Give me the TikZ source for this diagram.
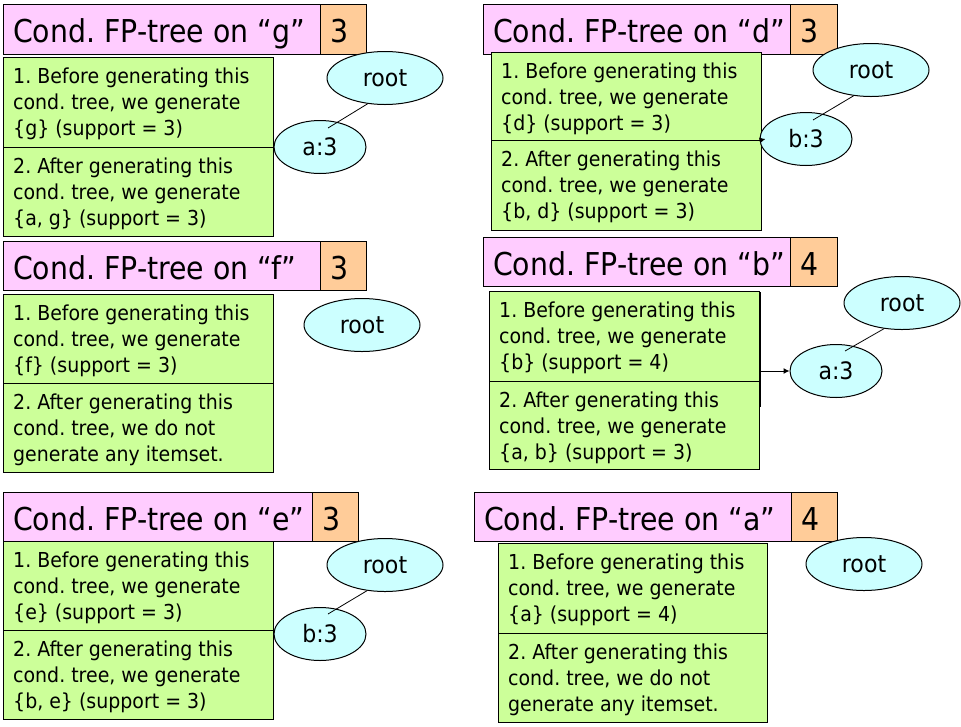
\documentclass[tikz,border=0pt]{standalone}
\usepackage{fontspec}
\setmainfont{DejaVu Sans}[FakeStretch=0.92]
\newfontfamily\ttlfont{DejaVu Sans}[FakeStretch=0.9]
\frenchspacing
\usetikzlibrary{shapes.geometric,arrows.meta,calc}
\definecolor{pinkc}{HTML}{FFCCFF}
\definecolor{orangec}{HTML}{FFCC99}
\definecolor{greenc}{HTML}{CCFF99}
\definecolor{cyanc}{HTML}{CCFFFF}
\tikzset{
  box/.style={draw=black, line width=1pt, anchor=north west, inner sep=0pt, outer sep=0pt},
  pinkbox/.style={box, fill=pinkc, minimum height=50pt},
  numbox/.style={box, fill=orangec, minimum height=50pt, minimum width=46pt},
  greenbox/.style={box, fill=greenc, minimum width=270pt},
  ttltext/.style={anchor=base west, inner sep=0pt, font=\ttlfont\fontsize{31.5}{38}\selectfont\frenchspacing},
  bodytext/.style={anchor=north west, inner sep=0pt, align=left, font=\fontsize{20.6}{26}\selectfont\frenchspacing},
  ell/.style={draw=black, line width=1pt, fill=cyanc, ellipse, inner sep=0pt, font=\fontsize{24}{29}\selectfont},
  rootell/.style={ell, minimum width=116pt, minimum height=53pt},
  kidell/.style={ell, minimum width=92pt, minimum height=53pt},
  edge/.style={draw=black, line width=0.8pt},
  arr/.style={draw=black, line width=1pt, -{Latex[length=6pt,width=6pt]}}
}
\begin{document}
\begin{tikzpicture}[x=1pt,y=-1pt]
\useasboundingbox (0,0) rectangle (961,726);

% ---------- panel g ----------
\node[pinkbox, minimum width=317pt] (tg) at (3,4) {};
\node[numbox] (ng) at (320,4) {};
\node[ttltext] (tgt) at ($(tg.north west)+(10,38)$) {Cond. FP-tree on “g”};
\node[ttltext] (ngt) at ($(ng.north west)+(10,38)$) {3};
\node[greenbox, minimum height=90pt] (g1) at (3,57) {};
\node[greenbox, minimum height=89pt] (g2) at (3,147) {};
\node[bodytext] (g1t) at ($(g1.north west)+(10,10.5)$) {1. Before generating this\\cond. tree, we generate\\\{g\} (support = 3)};
\node[bodytext] (g2t) at ($(g2.north west)+(10,10.5)$) {2. After generating this\\cond. tree, we generate\\\{a, g\} (support = 3)};
\node[rootell] (rg) at (385,78) {root};
\node[kidell] (ag) at (320,147) {a:3};
\draw[edge] (rg.236) -- ($(ag.center)+(8,-19)$);

% ---------- panel d ----------
\node[pinkbox, minimum width=307pt] (td) at (483,4) {};
\node[numbox, minimum width=47pt] (nd) at (790,4) {};
\node[ttltext] (tdt) at ($(td.north west)+(10,38)$) {Cond. FP-tree on “d”};
\node[ttltext] (ndt) at ($(nd.north west)+(10,38)$) {3};
\node[greenbox, minimum height=88pt] (d1) at (491,52) {};
\node[greenbox, minimum height=90pt] (d2) at (491,140) {};
\node[bodytext] (d1t) at ($(d1.north west)+(10,10.5)$) {1. Before generating this\\cond. tree, we generate\\\{d\} (support = 3)};
\node[bodytext] (d2t) at ($(d2.north west)+(10,10.5)$) {2. After generating this\\cond. tree, we generate\\\{b, d\} (support = 3)};
\node[rootell] (rd) at (871,70) {root};
\node[kidell] (bd) at (806,139) {b:3};
\draw[edge] (rd.236) -- ($(bd.center)+(7,-19)$);
\draw[arr] (d1.south east) -- ($(bd.west)+(6,0)$);

% ---------- panel f ----------
\node[pinkbox, minimum width=317pt, minimum height=49pt] (tf) at (3,241) {};
\node[numbox, minimum height=49pt] (nf) at (320,241) {};
\node[ttltext] (tft) at ($(tf.north west)+(10,38)$) {Cond. FP-tree on “f”};
\node[ttltext] (nft) at ($(nf.north west)+(10,38)$) {3};
\node[greenbox, minimum height=89pt] (f1) at (3,294) {};
\node[greenbox, minimum height=89pt] (f2) at (3,383) {};
\node[bodytext] (f1t) at ($(f1.north west)+(10,10.5)$) {1. Before generating this\\cond. tree, we generate\\\{f\} (support = 3)};
\node[bodytext] (f2t) at ($(f2.north west)+(10,10.5)$) {2. After generating this\\cond. tree, we do not\\generate any itemset.};
\node[rootell] (rf) at (362,325) {root};

% ---------- panel b ----------
\node[pinkbox, minimum width=307pt, minimum height=49pt] (tb) at (483,237) {};
\node[numbox, minimum width=47pt, minimum height=49pt] (nb) at (790,237) {};
\node[ttltext] (tbt) at ($(tb.north west)+(10,38)$) {Cond. FP-tree on “b”};
\node[ttltext] (nbt) at ($(nb.north west)+(10,38)$) {4};
\node[greenbox, minimum height=90pt] (b1) at (489,291) {};
\node[greenbox, minimum height=88pt] (b2) at (489,381) {};
\node[bodytext] (b1t) at ($(b1.north west)+(10,10.5)$) {1. Before generating this\\cond. tree, we generate\\\{b\} (support = 4)};
\node[bodytext] (b2t) at ($(b2.north west)+(10,10.5)$) {2. After generating this\\cond. tree, we generate\\\{a, b\} (support = 3)};
\node[rootell] (rb) at (902,303) {root};
\node[kidell] (ab) at (836,371) {a:3};
\coordinate (bv1) at (760.5,292);
\coordinate (bv2) at (760.5,407);
\coordinate (bs) at (760.5,371);
\draw[draw=black, line width=1.6pt] (bv1) -- (bv2);
\draw[arr] (bs) -- (ab.west);
\draw[edge] (rb.235) -- ($(ab.center)+(9,-20)$);

% ---------- panel e ----------
\node[pinkbox, minimum width=309pt, minimum height=49pt] (te) at (3,492) {};
\node[numbox, minimum height=49pt] (ne) at (312,492) {};
\node[ttltext] (tet) at ($(te.north west)+(10,38)$) {Cond. FP-tree on “e”};
\node[ttltext] (net) at ($(ne.north west)+(10,38)$) {3};
\node[greenbox, minimum height=89pt] (e1) at (3,541) {};
\node[greenbox, minimum height=89pt] (e2) at (3,630) {};
\node[bodytext] (e1t) at ($(e1.north west)+(10,10.5)$) {1. Before generating this\\cond. tree, we generate\\\{e\} (support = 3)};
\node[bodytext] (e2t) at ($(e2.north west)+(10,10.5)$) {2. After generating this\\cond. tree, we generate\\\{b, e\} (support = 3)};
\node[rootell] (re) at (385,565) {root};
\node[kidell] (be) at (320,634) {b:3};
\draw[edge] (re.235) -- ($(be.center)+(8,-20)$);

% ---------- panel a ----------
\node[pinkbox, minimum width=317pt, minimum height=49pt] (ta) at (474,492) {};
\node[numbox, minimum height=49pt] (na) at (791,492) {};
\node[ttltext] (tat) at ($(ta.north west)+(10,38)$) {Cond. FP-tree on “a”};
\node[ttltext] (nat) at ($(na.north west)+(10,38)$) {4};
\node[greenbox, minimum width=269pt, minimum height=90pt] (a1) at (498,543) {};
\node[greenbox, minimum width=269pt, minimum height=89pt] (a2) at (498,633) {};
\node[bodytext] (a1t) at ($(a1.north west)+(10,10.5)$) {1. Before generating this\\cond. tree, we generate\\\{a\} (support = 4)};
\node[bodytext] (a2t) at ($(a2.north west)+(10,10.5)$) {2. After generating this\\cond. tree, we do not\\generate any itemset.};
\node[rootell] (ra) at (864,564) {root};
\end{tikzpicture}
\end{document}
